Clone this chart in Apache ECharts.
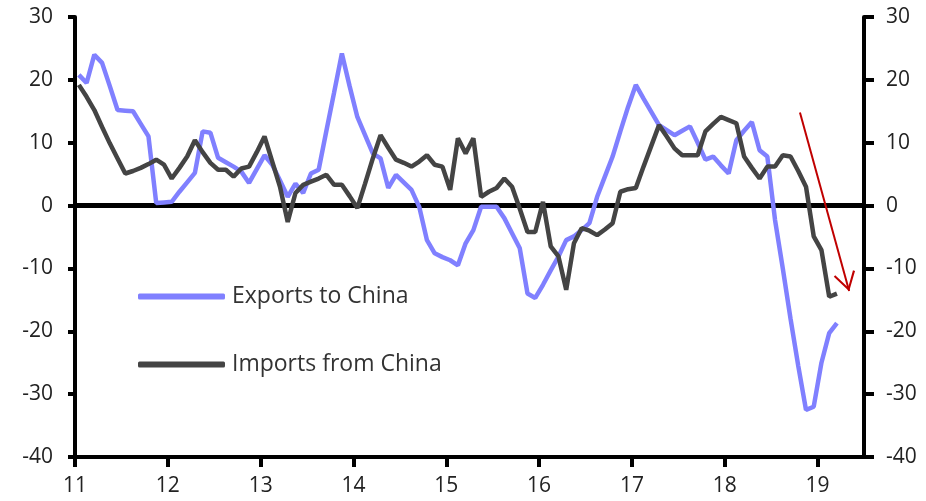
<!DOCTYPE html>
<html>
<head>
<meta charset="utf-8">
<script src="https://cdn.jsdelivr.net/npm/echarts@6/dist/echarts.min.js"></script>
<style>
  html, body { margin: 0; padding: 0; background: #fff; }
  #chart { width: 926px; height: 501px; }
</style>
</head>
<body>
<div id="chart"></div>
<script>
// Monthly data, Jan 2011 .. Mar 2019 (% y/y)
const startYear = 2011;
const xTickYears = [2011, 2012, 2013, 2014, 2015, 2016, 2017, 2018, 2019];
const yTicks = [-40, -30, -20, -10, 0, 10, 20, 30];

const exportsToChina = [
  20.8, 19.5, 24, 22.7, 19, 15.2, 15.1, 15, 13, 11, 0.4, 0.5,
  0.6, 2.2, 3.7, 5.2, 11.8, 11.6, 7.6, 6.9, 6.2, 5.4, 3.6, 5.8,
  8, 6.5, 4, 1.4, 3.5, 2, 5.1, 5.7, 11.9, 18, 24.2, 19,
  14.1, 11.2, 8.3, 7.5, 2.8, 4.9, 3.7, 2.5, -0.2, -5.5, -7.6, -8.2,
  -8.7, -9.5, -6, -3.9, -0.2, -0.2, -0.2, -2, -4.4, -6.8, -14, -14.7,
  -12.6, -10.3, -8.1, -5.5, -4.9, -3.9, -2.8, 1.4, 4.6, 7.8, 11.8, 15.7,
  19.2, 17, 14.9, 12.8, 12, 11.2, 11.9, 12.6, 10, 7.3, 7.8, 6.4,
  5.1, 10.4, 11.9, 13.3, 8.8, 7.8, -2.3, -10, -18, -25.5, -32.5, -32,
  -25, -20.3, -18.7
];

const importsFromChina = [
  19.2, 17.3, 15.2, 12.5, 9.9, 7.5, 5.1, 5.5, 6, 6.6, 7.3, 6.5,
  4.3, 6, 7.8, 10.4, 8.5, 6.8, 5.7, 5.7, 4.6, 5.9, 6.2, 8.5,
  11, 7, 3, -2.6, 2, 3.3, 3.8, 4.3, 4.9, 3.3, 3.3, 1.5,
  -0.4, 3.5, 7.5, 11.2, 9.2, 7.3, 6.8, 6.2, 7, 8, 6.5, 6.2,
  2.5, 10.7, 8.3, 10.7, 1.4, 2.2, 2.8, 4.3, 3, -0.5, -4.2, -4.2,
  0.6, -6.5, -8.1, -13.4, -6, -3.6, -4, -4.7, -3.8, -2.8, 2.2, 2.6,
  2.8, 6.2, 9.5, 12.8, 11, 9.1, 8, 8, 8, 11.8, 13, 14.1,
  13.6, 13.1, 7.8, 6, 4.3, 6.2, 6.2, 8, 7.8, 5.5, 3, -4.9,
  -7.1, -14.5, -14
];

// Annotation arrow (data coordinates)
const arrowStart = [2018.81, 14.8];
const arrowEnd = [2019.34, -13.6];

const toPoints = arr => arr.map((v, i) => [startYear + (i + 0.5) / 12, v]);

const FONT = "'Open Sans', 'Noto Sans', sans-serif";
const chevron = 'path://M0,-19L0.05,-19L0,-18.95Z M0,0L11,18L9.2,19.2L0,3.8L-9.2,19.2L-11,18Z';

const chart = echarts.init(document.getElementById('chart'));
const yAxisCommon = {
  type: 'value',
  min: yTicks[0],
  max: yTicks[yTicks.length - 1],
  interval: 10,
  splitLine: { show: false },
  axisLine: { show: true, lineStyle: { color: '#000', width: 4 } },
  axisLabel: { fontSize: 21, color: '#222', fontFamily: FONT, margin: 22 },
};
chart.setOption({
  animation: false,
  grid: { left: 75, right: 62, top: 17, bottom: 44 },
  legend: {
    orient: 'vertical',
    left: 133,
    top: 280,
    padding: 5,
    itemWidth: 87,
    itemHeight: 6,
    itemGap: 45,
    icon: 'roundRect',
    textStyle: { fontSize: 23, color: '#333', fontFamily: FONT, padding: [0, 0, 0, 2] },
    data: ['Exports to China', 'Imports from China']
  },
  xAxis: {
    type: 'value',
    min: xTickYears[0],
    max: 2019.5,
    interval: 1,
    splitLine: { show: false },
    axisLine: { onZero: false, lineStyle: { color: '#000', width: 4 } },
    axisTick: { show: true, length: 10, lineStyle: { color: '#000', width: 4 } },
    axisLabel: {
      fontSize: 21, color: '#222', fontFamily: FONT, margin: 19,
      showMaxLabel: false,
      formatter: v => (xTickYears.indexOf(v) >= 0 ? String(v % 100) : '')
    }
  },
  yAxis: [
    Object.assign({}, yAxisCommon, {
      position: 'left',
      axisTick: { show: true, length: 7, lineStyle: { color: '#000', width: 4 } }
    }),
    Object.assign({}, yAxisCommon, {
      position: 'right',
      axisTick: { show: true, length: 10, lineStyle: { color: '#000', width: 4 } }
    })
  ],
  series: [
    {
      name: 'Exports to China',
      type: 'line',
      data: toPoints(exportsToChina),
      showSymbol: false,
      symbol: 'none',
      color: '#8080ff',
      lineStyle: { color: '#8080ff', width: 4.5 },
      z: 3,
      markLine: {
        silent: true,
        symbol: 'none',
        label: { show: false },
        lineStyle: { color: '#000', width: 5, type: 'solid' },
        data: [{ yAxis: 0 }],
        z: 2
      }
    },
    {
      name: 'Imports from China',
      type: 'line',
      data: toPoints(importsFromChina),
      showSymbol: false,
      symbol: 'none',
      color: '#444444',
      lineStyle: { color: '#444444', width: 4.5 },
      z: 4,
      markLine: {
        silent: true,
        symbol: ['none', chevron],
        symbolSize: [22, 38],
        label: { show: false },
        lineStyle: { color: '#c00000', width: 2, type: 'solid' },
        data: [[{ coord: arrowStart }, { coord: arrowEnd }]]
      }
    }
  ]
});
</script>
</body>
</html>
